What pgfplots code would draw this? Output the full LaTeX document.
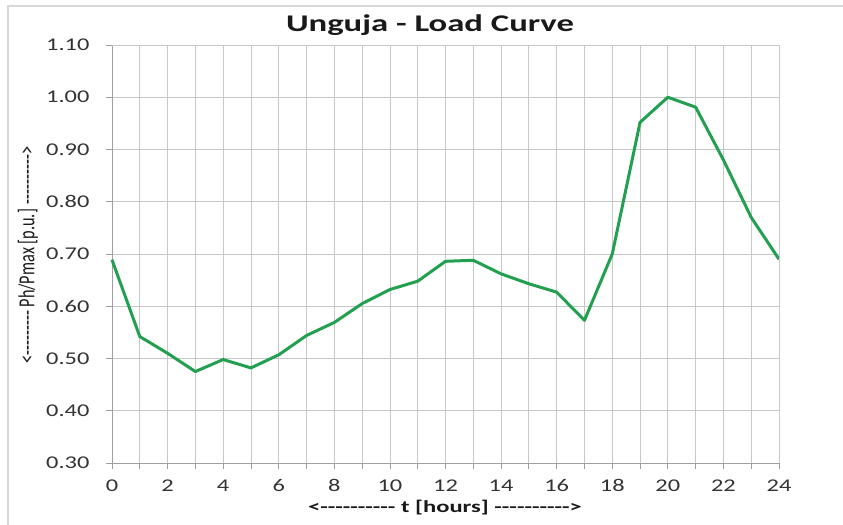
\documentclass[border=0pt]{standalone}
\usepackage{pgfplots}
\pgfplotsset{compat=1.18}
\usepackage{fontspec}
\setmainfont{Carlito}
\newfontfamily\wfont[Ligatures=TeXOff, FakeStretch=1.45]{Carlito}
\newfontfamily\tfont[Ligatures=TeXOff, FakeStretch=1.36]{Carlito}
\newfontfamily\yfont[Ligatures=TeXOff, FakeStretch=0.71]{Carlito}
\definecolor{lineG}{RGB}{34,160,80}
\definecolor{gridG}{RGB}{200,200,200}
\definecolor{axisG}{RGB}{160,160,160}
\definecolor{frameG}{RGB}{215,215,215}
\pgfplotstableread{
t p
0 0.689
1 0.542
2 0.510
3 0.475
4 0.498
5 0.482
6 0.507
7 0.544
8 0.569
9 0.605
10 0.632
11 0.648
12 0.686
13 0.688
14 0.662
15 0.643
16 0.627
17 0.573
18 0.700
19 0.952
20 1.000
21 0.981
22 0.880
23 0.770
24 0.690
}\loadcurve
\begin{document}
\begin{tikzpicture}[x=1bp,y=1bp]
\useasboundingbox (-112,-62) rectangle (731,463);
\draw[frameG, line width=1.5bp] (-104,-62) -- (-104,457) -- (731,457);
\begin{axis}[
  scale only axis,
  width=667bp, height=418bp,
  xmin=0, xmax=24, ymin=0.3, ymax=1.1,
  axis x line*=bottom, axis y line*=left,
  axis line style={axisG, line width=0.8bp},
  xtick={0,2,...,24},
  minor xtick={1,3,...,23},
  ytick={0.3,0.4,0.5,0.6,0.7,0.8,0.9,1.0,1.1},
  grid=both,
  major grid style={gridG, line width=0.8bp},
  minor grid style={gridG, line width=0.8bp},
  tick align=outside,
  major tick length=6bp, minor tick length=6bp,
  tick style={axisG, line width=0.8bp},
  /pgf/number format/assume math mode=true,
  ticklabel style={font=\tfont\fontsize{18}{20}\selectfont, text=black!80},
  yticklabel style={xshift=-13bp, /pgf/number format/.cd, fixed, fixed zerofill, precision=2},
  xticklabel style={yshift=-7bp},
  clip=false,
]
\addplot[lineG, line width=3bp, line join=round] table[x=t, y=p] {\loadcurve};
\draw[gridG, line width=0.8bp] (axis cs:0,1.1) -- (axis cs:24,1.1) -- (axis cs:24,0.3);
\end{axis}
\node[font=\wfont\bfseries\fontsize{24}{26}\selectfont, text=black!90] at (318,438) {Unguja - Load Curve};
\node[rotate=90, font=\yfont\fontsize{23}{25}\selectfont, text=black!90] at (-84,208) {<--------- Ph/Pmax [p.u.] ---------->};
\node[font=\wfont\bfseries\fontsize{17}{19}\selectfont, text=black!90] at (333,-45) {<---------- t [hours] ---------->};
\end{tikzpicture}
\end{document}
